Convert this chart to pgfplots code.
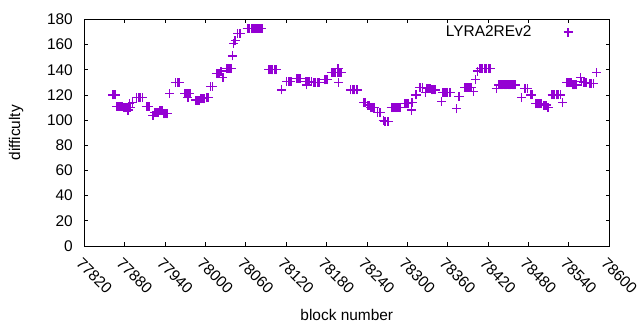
\documentclass[border=0pt]{standalone}
\usepackage{pgfplots}
\pgfplotsset{compat=1.18}
\usepackage{pgfplotstable}
\usepackage{fontspec}
\setmainfont{Liberation Sans}
\definecolor{gpviolet}{HTML}{9400D3}
\pgfdeclareplotmark{vplus}{%
  \pgfsetstrokecolor{gpviolet}%
  \pgfpathmoveto{\pgfqpoint{-\pgfplotmarksize}{0pt}}%
  \pgfpathlineto{\pgfqpoint{\pgfplotmarksize}{0pt}}%
  \pgfpathmoveto{\pgfqpoint{0pt}{-\pgfplotmarksize}}%
  \pgfpathlineto{\pgfqpoint{0pt}{\pgfplotmarksize}}%
  \pgfusepathqstroke}

\pgfplotstableread{
x y
77862 120
77864 120
77866 120
77868 111
77870 111
77872 111
77874 111
77876 111
77878 110
77880 110
77882 110
77884 110
77886 110
77888 110
77885 108
77887 113
77892 114
77898 118
77900 118
77902 118
77904 118
77906 118
77912 111
77914 111
77916 111
77922 104
77924 106
77926 106
77928 106
77930 106
77932 108
77934 108
77936 108
77938 105
77940 105
77942 105
77944 105
77947 121
77956 130
77958 130
77960 130
77962 130
77969 121
77971 121
77973 121
77975 121
77977 121
77974 118
77985 116
77987 116
77989 116
77991 116
77993 117
77995 117
77997 117
77999 117
78001 118
78003 118
78005 118
78008 127
78010 127
78016 137
78018 137
78020 137
78022 139
78024 139
78026 134
78032 141
78034 141
78036 141
78038 141
78040 151
78042 161
78044 163
78048 169
78050 169
78052 169
78062 173
78064 173
78066 173
78068 173
78070 173
78072 173
78074 173
78076 173
78078 173
78080 173
78082 173
78084 173
78094 140
78096 140
78098 140
78100 140
78102 140
78104 140
78106 140
78113 124
78121 131
78123 131
78125 131
78127 131
78135 133
78137 133
78139 133
78141 133
78149 131
78151 131
78153 131
78155 131
78157 131
78150 128
78160 130
78162 130
78164 130
78166 130
78168 130
78170 130
78177 132
78179 132
78181 132
78187 138
78189 138
78191 138
78193 138
78196 138
78198 138
78200 138
78202 138
78197 141
78198 130
78216 124
78218 124
78220 124
78222 124
78224 124
78226 124
78235 114
78237 114
78241 112
78243 112
78245 110
78247 110
78249 110
78251 110
78256 106
78258 106
78260 106
78264 100
78266 99
78268 99
78270 99
78272 99
78276 110
78278 110
78280 110
78282 110
78284 110
78286 110
78288 110
78290 110
78296 113
78298 113
78300 113
78302 113
78306 108
78307 114
78312 120
78314 120
78318 126
78320 126
78322 126
78327 122
78328 125
78330 125
78332 125
78334 125
78336 124
78338 124
78340 124
78342 124
78351 115
78352 122
78354 122
78356 122
78358 122
78360 122
78362 122
78364 122
78373 109
78376 119
78378 119
78385 126
78387 126
78389 126
78391 126
78393 126
78395 126
78398 123
78401 132
78404 139
78408 141
78410 141
78412 141
78414 141
78416 141
78418 141
78420 141
78422 141
78424 141
78432 125
78436 128
78438 128
78440 128
78442 128
78444 128
78446 128
78448 128
78450 128
78452 128
78454 128
78456 128
78458 128
78460 128
78470 118
78474 125
78476 125
78478 125
78483 120
78485 120
78491 113
78493 113
78495 113
78497 113
78499 113
78503 112
78505 112
78507 112
78509 110
78515 120
78517 120
78519 120
78521 120
78523 120
78525 120
78527 120
78531 114
78537 130
78539 130
78541 130
78543 130
78545 128
78547 128
78549 128
78551 128
78557 134
78559 131
78562 130
78564 130
78566 130
78570 129
78572 129
78574 129
78576 129
78581 138
}\datatable

\begin{document}
\begin{tikzpicture}
\fill[white] (0,0) rectangle (640bp,330bp);
\begin{axis}[
  at={(84.3bp,84bp)}, anchor=south west,
  scale only axis,
  width=525bp, height=226.5bp,
  xmin=77820, xmax=78600, ymin=0, ymax=180,
  xtick={77820,77880,...,78600},
  ytick={0,20,...,180},
  scaled x ticks=false,
  tick align=inside,
  major tick length=3.5bp,
  axis line style={line width=0.9bp},
  tick style={black, line width=0.9bp},
  font=\fontsize{15.5}{18}\selectfont,
  /pgf/number format/.cd, 1000 sep={}, assume math mode=true,
  /pgfplots/.cd,
  xticklabel style={rotate=-45, anchor=north west, yshift=-5bp, xshift=3bp},
  yticklabel style={xshift=-8bp},
  xlabel={block number},
  ylabel={difficulty},
  x label style={at={(axis description cs:0.5,-0.305)}, anchor=center},
  y label style={at={(axis description cs:-0.13,0.5)}, anchor=center},
  legend plot pos=right,
  legend image code/.code={\path (0bp,0bp); \draw[#1] plot coordinates {(34bp,0bp)};},
  legend style={draw=none, fill=none, at={(0.679,0.99)}, anchor=north west, font=\fontsize{15.5}{18}\selectfont},
]
\addplot[only marks, mark=vplus, color=gpviolet, mark size=4.5bp, line width=1.2bp, mark options={solid, draw=gpviolet, line width=1.2bp}] table[x=x,y=y] {\datatable};
\addlegendentry{LYRA2REv2}
\end{axis}
\pgfresetboundingbox
\path[use as bounding box] (0,0) rectangle (640bp,330bp);
\end{tikzpicture}
\end{document}
